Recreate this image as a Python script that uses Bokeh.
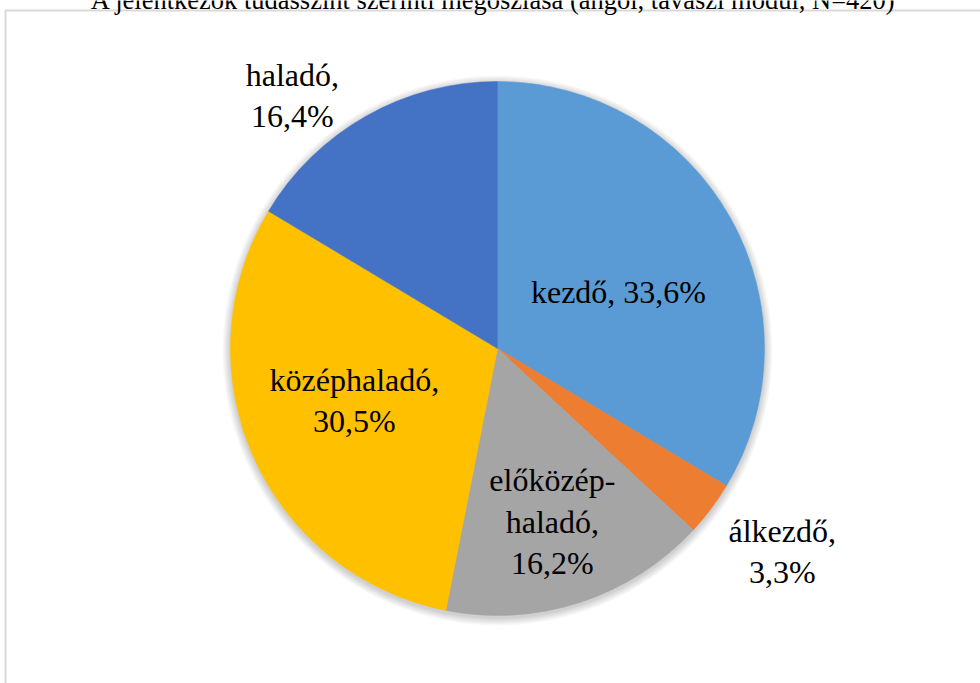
import math
from bokeh.plotting import figure
from bokeh.models import Range1d, ColumnDataSource
from bokeh.core.properties import value
from bokeh.embed import file_html
from bokeh.resources import INLINE

# ---- data ----
title_text = "A jelentkezők tudásszint szerinti megoszlása (angol, tavaszi modul, N=420)"
categories = ["kezdő", "álkezdő", "előközép-haladó", "középhaladó", "haladó"]
shares = [33.6, 3.3, 16.2, 30.5, 16.4]

# ---- style ----
colors = ["#5B9BD5", "#ED7D31", "#A5A5A5", "#FFC000", "#4472C4"]
label_dist = [0.50, 1.31, 0.68, 0.57, 1.22]      # fraction of radius
label_shift = [4.5, -1.4, 0.4, 4.0, -9.5]         # degrees, clockwise
label_wrap = [False, True, True, True, True]
FONT = "'Liberation Serif'"

W, H = 980, 683
cx, cy_screen, R = 497, 348, 267
cy = H - cy_screen

p = figure(width=W, height=H, output_backend="svg", toolbar_location=None,
           x_range=Range1d(0, W), y_range=Range1d(0, H),
           min_border=0, outline_line_color=None)
p.axis.visible = False
p.xgrid.visible = False
p.ygrid.visible = False
p.background_fill_color = "white"
p.border_fill_color = "white"

# chart area border
p.quad(left=5, right=W + 20, top=H - 10, bottom=-20, fill_color=None,
       line_color="#D9D9D9", line_width=2)

# title (cut at the top like the reference)
p.text(x=[493], y=[H + 1], text=[title_text], text_font=value(FONT),
       text_font_size="26.5px", text_align="center", text_baseline="alphabetic",
       text_color="#000000")

# soft shadow
for k in range(1, 9):
    p.circle(x=[cx], y=[cy - 2], radius=R + k, fill_color="black",
             fill_alpha=0.024, line_color=None)

total = sum(shares)
starts, ends, lx, ly, texts = [], [], [], [], []
cum = 0.0
for cat, v, d, sh, wrap in zip(categories, shares, label_dist, label_shift, label_wrap):
    a0 = cum / total * 2 * math.pi
    cum += v
    a1 = cum / total * 2 * math.pi
    starts.append(math.pi / 2 - a1)
    ends.append(math.pi / 2 - a0)
    mid = (a0 + a1) / 2 + math.radians(sh)
    lx.append(cx + d * R * math.sin(mid))
    ly.append(cy + d * R * math.cos(mid))
    t = f"{cat}, {v:.1f}%".replace(".", ",")
    if wrap:
        t = t.replace("-", "-\n").replace(", ", ",\n")
    texts.append(t)

src = ColumnDataSource(dict(start=starts, end=ends, color=colors,
                            x=lx, y=ly, text=texts))
p.wedge(x=cx, y=cy, radius=R, start_angle="start", end_angle="end",
        fill_color="color", line_color="color", line_width=0.5, source=src)

p.text(x="x", y="y", text="text", source=src, text_font=value(FONT),
       text_font_size="32px", text_align="center", text_baseline="middle",
       text_line_height=1.15, text_color="#000000")

open("out.html", "w").write(file_html(p, INLINE))
